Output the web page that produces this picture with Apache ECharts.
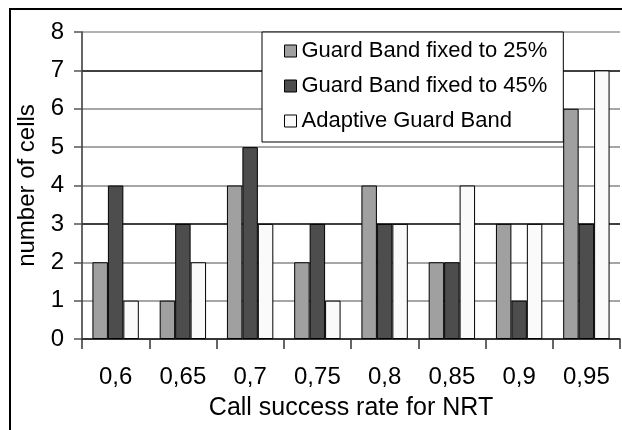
<!DOCTYPE html>
<html>
<head>
<meta charset="utf-8">
<script src="https://cdn.jsdelivr.net/npm/echarts@6/dist/echarts.min.js"></script>
<style>
html,body{margin:0;padding:0;background:#fff;}
#c{width:622px;height:430px;}
</style>
</head>
<body>
<div id="c"></div>
<script>
const categories = ['0,6', '0,65', '0,7', '0,75', '0,8', '0,85', '0,9', '0,95'];
const gb25 = [2, 1, 4, 2, 4, 2, 3, 6];
const gb45 = [4, 3, 5, 3, 3, 2, 1, 3];
const adaptive = [1, 2, 3, 1, 3, 4, 3, 7];
const seriesNames = ['Guard Band fixed to 25%', 'Guard Band fixed to 45%', 'Adaptive Guard Band'];
const yTicks = [0, 1, 2, 3, 4, 5, 6, 7, 8];

const FONT = 'Arial, "Liberation Sans", sans-serif';
const chart = echarts.init(document.getElementById('c'), null, {renderer: 'canvas'});

function bar(name, data, color) {
  return {
    name: name,
    type: 'bar',
    data: data,
    barGap: '0%',
    barCategoryGap: '31%',
    itemStyle: {color: color, borderColor: '#000', borderWidth: 1},
    emphasis: {disabled: true},
    animation: false
  };
}

chart.setOption({
  animation: false,
  backgroundColor: '#fff',
  textStyle: {fontFamily: FONT, color: '#000'},
  graphic: [{
    type: 'rect',
    shape: {x: 10, y: 9, width: 700, height: 500},
    style: {fill: 'none', stroke: '#000', lineWidth: 2},
    silent: true,
    z: -10
  }],
  grid: {left: 82, right: 2, top: 32, bottom: 91, containLabel: false},
  legend: {
    orient: 'vertical',
    left: 262,
    top: 32,
    padding: [8, 16, 10, 22],
    itemWidth: 12,
    itemHeight: 12,
    itemGap: 13,
    backgroundColor: '#fff',
    borderColor: '#000',
    borderWidth: 1,
    borderRadius: 0,
    icon: 'rect',
    itemStyle: {borderColor: '#000', borderWidth: 1},
    textStyle: {fontFamily: FONT, fontSize: 22, color: '#000'},
    data: seriesNames,
    z: 10
  },
  xAxis: {
    type: 'category',
    data: categories,
    name: 'Call success rate for NRT',
    nameLocation: 'middle',
    nameGap: 57,
    nameTextStyle: {fontFamily: FONT, fontSize: 25, color: '#000'},
    axisLine: {show: true, lineStyle: {color: '#333', width: 1.5}},
    axisTick: {show: true, inside: false, length: 10, alignWithLabel: false, lineStyle: {color: '#333', width: 1.5}},
    axisLabel: {fontFamily: FONT, fontSize: 24, color: '#000', margin: 26, interval: 0},
    splitLine: {show: false}
  },
  yAxis: {
    type: 'value',
    min: yTicks[0],
    max: yTicks[yTicks.length - 1],
    interval: 1,
    name: 'number of cells',
    nameLocation: 'middle',
    nameGap: 41,
    nameRotate: 90,
    nameTextStyle: {fontFamily: FONT, fontSize: 24, color: '#000'},
    axisLine: {show: true, lineStyle: {color: '#333', width: 1.5}},
    axisTick: {show: true, inside: false, length: 8, lineStyle: {color: '#555', width: 1.5}},
    axisLabel: {fontFamily: FONT, fontSize: 24, color: '#000', margin: 18},
    splitLine: {show: true, lineStyle: {color: ['#000', '#888', '#888', '#000', '#888', '#888', '#888', '#000', '#999'], width: 1.5}}
  },
  series: [
    bar(seriesNames[0], gb25, '#a0a0a0'),
    bar(seriesNames[1], gb45, '#4d4d4d'),
    bar(seriesNames[2], adaptive, '#fafafa')
  ]
});
</script>
</body>
</html>
